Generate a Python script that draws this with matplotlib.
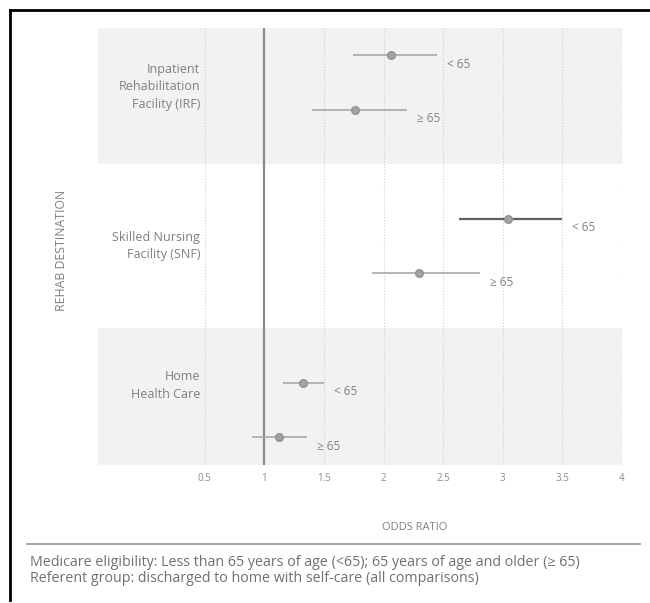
import matplotlib.pyplot as plt
from matplotlib.lines import Line2D

# odds ratios by rehab destination and age group (vs discharge home w/ self-care)
destinations = ["Inpatient\nRehabilitation\nFacility (IRF)",
                "Skilled Nursing\nFacility (SNF)",
                "Home\nHealth Care"]
age_groups = ["< 65", "\u2265 65"]
odds = [2.06, 1.76, 3.04, 2.30, 1.32, 1.12]
ci_low = [1.74, 1.40, 2.63, 1.90, 1.16, 0.90]
ci_high = [2.45, 2.20, 3.50, 2.81, 1.50, 1.36]
xticks = [0.5, 1, 1.5, 2, 2.5, 3, 3.5, 4]

plt.rcParams['font.family'] = ['Open Sans', 'DejaVu Sans']

fig = plt.figure(figsize=(6.5, 6.03), dpi=100)
ax = fig.add_axes([0.150, 0.2295, 0.807, 0.7245])

# alternating bands
ax.axhspan(-0.5, 2, color='#f2f2f2', lw=0, zorder=0)
ax.axhspan(5, 7.5, color='#f2f2f2', lw=0, zorder=0)

for x in xticks:
    if x != 1:
        ax.axvline(x, color='#d0d0d0', ls=':', lw=0.8, zorder=1)
ax.axvline(1, color='#8a8a8a', lw=1.6, zorder=2)

label_dy = [0.58, 0.5, 0.05]
for i, dest in enumerate(destinations):
    ax.text(0.46, 3 * i + label_dy[i], dest, ha='right', va='center',
            fontsize=9, color='#7f7f7f', linespacing=1.45)
    for j, grp in enumerate(age_groups):
        k = 2 * i + j
        y = 3 * i + j
        dark = (i == 1 and j == 0)
        col = '#606060' if dark else '#a8a8a8'
        ax.errorbar(odds[k], y, xerr=[[odds[k] - ci_low[k]], [ci_high[k] - odds[k]]],
                    fmt='o', color=col, ecolor=col, lw=1.6 if dark else 1.2,
                    ms=5.5, mfc='#a3a3a3', mec='#929292', capsize=0, zorder=3)
        ax.annotate(grp, (ci_high[k], y), xytext=(7, -6.5), textcoords='offset points',
                    ha='left', va='center', fontsize=8.5, color='#808080')

ax.set_xlim(-0.4, 4.0)
ax.set_ylim(7.5, -0.5)
ax.set_xticks(xticks)
ax.set_xticklabels([f'{t:g}' for t in xticks])
ax.tick_params(axis='x', length=0, labelsize=7, labelcolor='#8c8c8c', pad=6)
ax.set_yticks([])
for s in ax.spines.values():
    s.set_visible(False)

fig.text(0.095, 0.585, 'REHAB DESTINATION', rotation=90, ha='center', va='center',
         fontsize=8.8, color='#7f7f7f')
fig.text(0.638, 1 - 527 / 603, 'ODDS RATIO', ha='center', va='center',
         fontsize=8, color='#7f7f7f')

# footnote
fig.add_artist(Line2D([27 / 650, 640 / 650], [1 - 544 / 603] * 2, color='#a0a0a0', lw=1.3))
fig.text(30 / 650, 1 - 562 / 603,
         'Medicare eligibility: Less than 65 years of age (<65); 65 years of age and older (\u2265 65)',
         ha='left', va='center', fontsize=10.3, color='#707070')
fig.text(30 / 650, 1 - 578 / 603,
         'Referent group: discharged to home with self-care (all comparisons)',
         ha='left', va='center', fontsize=10.3, color='#707070')

# outer frame (top and left edges only)
fig.add_artist(Line2D([10 / 650, 1], [1 - 10 / 603] * 2, color='black', lw=2))
fig.add_artist(Line2D([10 / 650] * 2, [1 - 10 / 603, 1 - 600 / 603], color='black', lw=2))

fig.savefig('out.png', dpi=100)
